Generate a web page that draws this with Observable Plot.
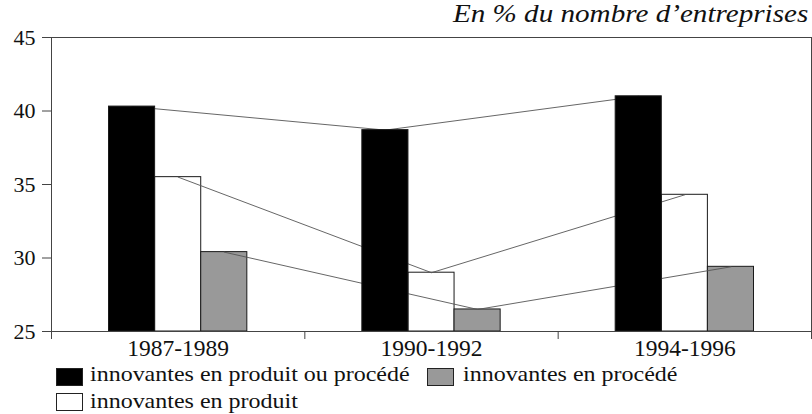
<!DOCTYPE html>
<html><head><meta charset="utf-8">
<script src="https://cdn.jsdelivr.net/npm/d3@7"></script>
<script src="https://cdn.jsdelivr.net/npm/@observablehq/plot@0.6"></script>
<style>
body{margin:0;background:#fff;}
#wrap{position:relative;width:812px;height:414px;color:#111;overflow:hidden;}
#title{position:absolute;right:4px;top:1px;font-style:italic;font-size:26px;line-height:26px;white-space:nowrap;transform:scaleX(1.12);transform-origin:right center;z-index:2;}
#chart{position:absolute;left:0;top:16px;}
.sw{position:absolute;width:25px;height:16px;border:1px solid #222;}
.lt{position:absolute;font-size:22px;line-height:22px;white-space:nowrap;transform:scaleX(1.09);transform-origin:left center;}
</style>
</head><body>
<div id="wrap">
  <div id="title">En % du nombre d’entreprises</div>
  <div id="chart"></div>
  <div id="legend"></div>
</div>
<script>
const periods = ["1987-1989", "1990-1992", "1994-1996"];
const seriesNames = ["innovantes en produit ou procédé", "innovantes en produit", "innovantes en procédé"];
const produitOuProcede = [40.3, 38.7, 41.0];
const produit = [35.5, 29.0, 34.3];
const procede = [30.4, 26.5, 29.4];
const yTicks = [25, 30, 35, 40, 45];
const colors = ["#000000", "#ffffff", "#999999"];

const FONT = "'Liberation Serif', 'Times New Roman', Times, 'DejaVu Serif', serif";
document.getElementById("wrap").style.fontFamily = FONT;
document.getElementById("title").style.fontFamily = FONT;

const seriesValues = [produitOuProcede, produit, procede];
const barW = 0.182;
const groupStart = (1 - 3 * barW) / 2;
const rows = [];
periods.forEach((p, i) => {
  seriesValues.forEach((vals, j) => {
    const x1 = i + groupStart + j * barW;
    rows.push({period: p, i, j, series: seriesNames[j], value: vals[i], x1, x2: x1 + barW, xc: x1 + barW / 2, fill: colors[j]});
  });
});
const yMin = yTicks[0], yMax = yTicks[yTicks.length - 1];

const chart = Plot.plot({
  width: 812, height: 349,
  marginTop: 21, marginBottom: 34, marginLeft: 51, marginRight: 1,
  style: {fontFamily: FONT, color: "#111", background: "transparent"},
  x: {domain: [0, periods.length], axis: null},
  y: {domain: [yMin, yMax], axis: null},
  marks: [
    Plot.rectY(rows.filter(d => d.j > 0), {x1: "x1", x2: "x2", y1: () => yMin, y2: "value", fill: "fill", stroke: "#1a1a1a", strokeWidth: 1}),
    Plot.line(rows, {x: "xc", y: "value", z: "j", stroke: "#555", strokeWidth: 0.9}),
    Plot.rectY(rows.filter(d => d.j === 0), {x1: "x1", x2: "x2", y1: () => yMin, y2: "value", fill: "fill", stroke: "#1a1a1a", strokeWidth: 1}),
    Plot.frame({stroke: "#444", strokeWidth: 1}),
    Plot.axisY({ticks: yTicks, label: null, tickSize: 9, tickPadding: 7, fontSize: 22, fontFamily: FONT, stroke: "#444", tickFormat: d => String(d)}),
    Plot.axisX({ticks: d3.range(periods.length + 1), label: null, tickSize: 8, stroke: "#444", tickFormat: () => ""}),
    Plot.axisX({ticks: periods.map((p, i) => i + 0.5), label: null, tickSize: 0, tickPadding: 8, fontSize: 23.5, fontFamily: FONT, tickFormat: d => periods[Math.floor(d)]})
  ]
});
document.getElementById("chart").appendChild(chart);

const legend = document.getElementById("legend");
const legendPos = [
  {j: 0, sx: 56, sy: 368, tx: 90, ty: 363},
  {j: 2, sx: 427, sy: 368, tx: 463, ty: 363},
  {j: 1, sx: 56, sy: 393, tx: 90, ty: 390}
];
legendPos.forEach(p => {
  const s = document.createElement("div");
  s.className = "sw";
  s.style.left = p.sx + "px"; s.style.top = p.sy + "px";
  s.style.background = colors[p.j];
  legend.appendChild(s);
  const t = document.createElement("div");
  t.className = "lt";
  t.style.fontFamily = FONT;
  t.style.left = p.tx + "px"; t.style.top = p.ty + "px";
  t.textContent = seriesNames[p.j];
  legend.appendChild(t);
});
</script>
</body></html>
